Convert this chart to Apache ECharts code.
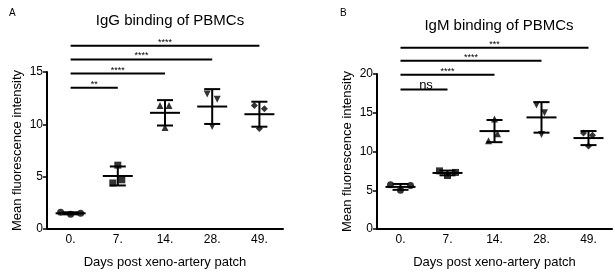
<!DOCTYPE html>
<html>
<head>
<meta charset="utf-8">
<script src="https://cdn.jsdelivr.net/npm/echarts@6/dist/echarts.min.js"></script>
<style>
html, body { margin: 0; padding: 0; background: #fff; }
#chart { width: 615px; height: 272px; }
</style>
</head>
<body>
<div id="chart"></div>
<script>
// categories
var days = ['0.', '7.', '14.', '28.', '49.'];

// replicate values per day (3 animals)
var iggValues = [[1.6, 1.4, 1.5], [6.1, 4.4, 4.7], [11.8, 11.8, 9.7], [12.9, 12.4, 9.8], [11.8, 11.5, 9.6]];
var igmValues = [[5.7, 5.0, 5.6], [7.5, 6.9, 7.3], [14.2, 12.3, 11.4], [16.0, 15.0, 12.2], [12.4, 12.1, 10.7]];

// axis ticks
var iggTicks = [0, 5, 10, 15];
var igmTicks = [0, 5, 10, 15, 20];

// significance brackets (all from day 0)
var iggSigTo = [1, 2, 3, 4];
var iggSigY = [13.5, 14.85, 16.2, 17.5];
var iggSigLabel = ['**', '****', '****', '****'];
var igmSigTo = [1, 2, 3, 4];
var igmSigY = [18.0, 19.9, 21.7, 23.4];
var igmSigLabel = ['ns', '****', '****', '***'];

var FONT = 'Liberation Sans, Arial, sans-serif';
var symbols = ['circle', 'rect', 'triangle', 'path://M0,0L10,0L5,9Z', 'diamond'];
var jitterA = [[-10, 0, 10], [0, -5, 4], [-5, 4, 0], [-5, 5, 0], [-5, 5, 0]];
var jitterB = [[-10, 0, 10], [-8, 0, 8], [0, 3, -6], [-5, 3, 0], [-5, 4, 0]];

function meanSd(arr) {
	var m = 0;
	for (var i = 0; i < arr.length; i++) m += arr[i];
	m = m / arr.length;
	var s = 0;
	for (var j = 0; j < arr.length; j++) s += (arr[j] - m) * (arr[j] - m);
	return [m, Math.sqrt(s / (arr.length - 1))];
}

function errData(vals) {
	var out = [];
	for (var i = 0; i < vals.length; i++) {
		var ms = meanSd(vals[i]);
		out.push([i, ms[0], ms[1]]);
	}
	return out;
}

function pointData(vals, jitter) {
	var out = [];
	for (var i = 0; i < vals.length; i++) {
		for (var r = 0; r < vals[i].length; r++) {
			out.push({
				value: [i, vals[i][r]],
				symbol: symbols[i],
				symbolOffset: [jitter[i][r], 0]
			});
		}
	}
	return out;
}

function sigData(to, ys, labels) {
	var out = [];
	for (var i = 0; i < to.length; i++) out.push([0, to[i], ys[i], labels[i]]);
	return out;
}

var ln = { stroke: '#000', lineWidth: 2 };

//误差线: 均值 ± 标准差
function errRender(params, api) {
	var x = api.value(0), m = api.value(1), s = api.value(2);
	var c = api.coord([x, m]);
	var hi = api.coord([x, m + s]);
	var lo = api.coord([x, m - s]);
	return {
		type: 'group',
		children: [
			{ type: 'line', shape: { x1: c[0], y1: hi[1], x2: c[0], y2: lo[1] }, style: ln },
			{ type: 'line', shape: { x1: c[0] - 8, y1: hi[1], x2: c[0] + 8, y2: hi[1] }, style: ln },
			{ type: 'line', shape: { x1: c[0] - 8, y1: lo[1], x2: c[0] + 8, y2: lo[1] }, style: ln },
			{ type: 'line', shape: { x1: c[0] - 15, y1: c[1], x2: c[0] + 15, y2: c[1] }, style: ln }
		]
	};
}

//显著性标记
function sigRender(params, api) {
	var a = api.coord([api.value(0), api.value(2)]);
	var b = api.coord([api.value(1), api.value(2)]);
	var label = api.value(3);
	var isNs = label === 'ns';
	return {
		type: 'group',
		children: [
			{ type: 'line', shape: { x1: a[0], y1: a[1], x2: b[0], y2: b[1] }, style: { stroke: '#000', lineWidth: 2 } },
			{
				type: 'text',
				style: {
					text: label, x: (a[0] + b[0]) / 2 + (isNs ? 2 : 0), y: a[1] + (isNs ? 2 : 1),
					textAlign: 'center', textVerticalAlign: 'bottom',
					font: (isNs ? '13px ' : '9px ') + FONT, fill: '#000'
				}
			}
		]
	};
}

function xAxisOf(idx) {
	return {
		type: 'category', gridIndex: idx, data: days,
		name: 'Days post xeno-artery patch', nameLocation: 'middle', nameGap: 27,
		nameTextStyle: { color: '#000', fontSize: 13, fontFamily: FONT },
		axisLine: { lineStyle: { color: '#000', width: 2 } },
		axisTick: { alignWithLabel: true, length: 4, lineStyle: { color: '#000', width: 1.5 } },
		axisLabel: { color: '#000', fontSize: 12, fontFamily: FONT, margin: 5 },
		splitLine: { show: false }
	};
}

function yAxisOf(idx, ticks) {
	return {
		type: 'value', gridIndex: idx,
		min: ticks[0], max: ticks[ticks.length - 1], interval: ticks[1] - ticks[0],
		name: 'Mean fluorescence intensity', nameLocation: 'middle', nameGap: 23, nameRotate: 90,
		nameTextStyle: { color: '#000', fontSize: 13, fontFamily: FONT },
		axisLine: { show: true, lineStyle: { color: '#000', width: 2 } },
		axisTick: { show: true, length: 4, lineStyle: { color: '#000', width: 1.5 } },
		axisLabel: { color: '#000', fontSize: 12, fontFamily: FONT, margin: 4 },
		splitLine: { show: false }
	};
}

var option = {
	animation: false,
	backgroundColor: '#fff',
	title: [
		{ text: 'IgG binding of PBMCs', left: 165, top: 8, textAlign: 'center',
			textStyle: { fontSize: 15, fontWeight: 'normal', color: '#000', fontFamily: FONT } },
		{ text: 'IgM binding of PBMCs', left: 494, top: 13, textAlign: 'center',
			textStyle: { fontSize: 15, fontWeight: 'normal', color: '#000', fontFamily: FONT } },
		{ text: 'A', left: 4, top: 3, textStyle: { fontSize: 10, fontWeight: 'normal', color: '#000', fontFamily: FONT } },
		{ text: 'B', left: 335, top: 3, textStyle: { fontSize: 10, fontWeight: 'normal', color: '#000', fontFamily: FONT } }
	],
	grid: [
		{ left: 47, right: 332, top: 72, bottom: 43, containLabel: false, outerBoundsMode: 'none' },
		{ left: 377, right: 3, top: 74, bottom: 43, containLabel: false, outerBoundsMode: 'none' }
	],
	xAxis: [xAxisOf(0), xAxisOf(1)],
	yAxis: [yAxisOf(0, iggTicks), yAxisOf(1, igmTicks)],
	series: [
		{ type: 'scatter', xAxisIndex: 0, yAxisIndex: 0, symbolSize: 7, itemStyle: { color: '#000' },
			data: pointData(iggValues, jitterA) },
		{ type: 'custom', xAxisIndex: 0, yAxisIndex: 0, renderItem: errRender, data: errData(iggValues) },
		{ type: 'custom', xAxisIndex: 0, yAxisIndex: 0, clip: false, renderItem: sigRender,
			data: sigData(iggSigTo, iggSigY, iggSigLabel) },
		{ type: 'scatter', xAxisIndex: 1, yAxisIndex: 1, symbolSize: 7, itemStyle: { color: '#000' },
			data: pointData(igmValues, jitterB) },
		{ type: 'custom', xAxisIndex: 1, yAxisIndex: 1, renderItem: errRender, data: errData(igmValues) },
		{ type: 'custom', xAxisIndex: 1, yAxisIndex: 1, clip: false, renderItem: sigRender,
			data: sigData(igmSigTo, igmSigY, igmSigLabel) }
	]
};

var chart = echarts.init(document.getElementById('chart'), null, { renderer: 'canvas' });
chart.clear();
chart.setOption(option);
</script>
</body>
</html>
